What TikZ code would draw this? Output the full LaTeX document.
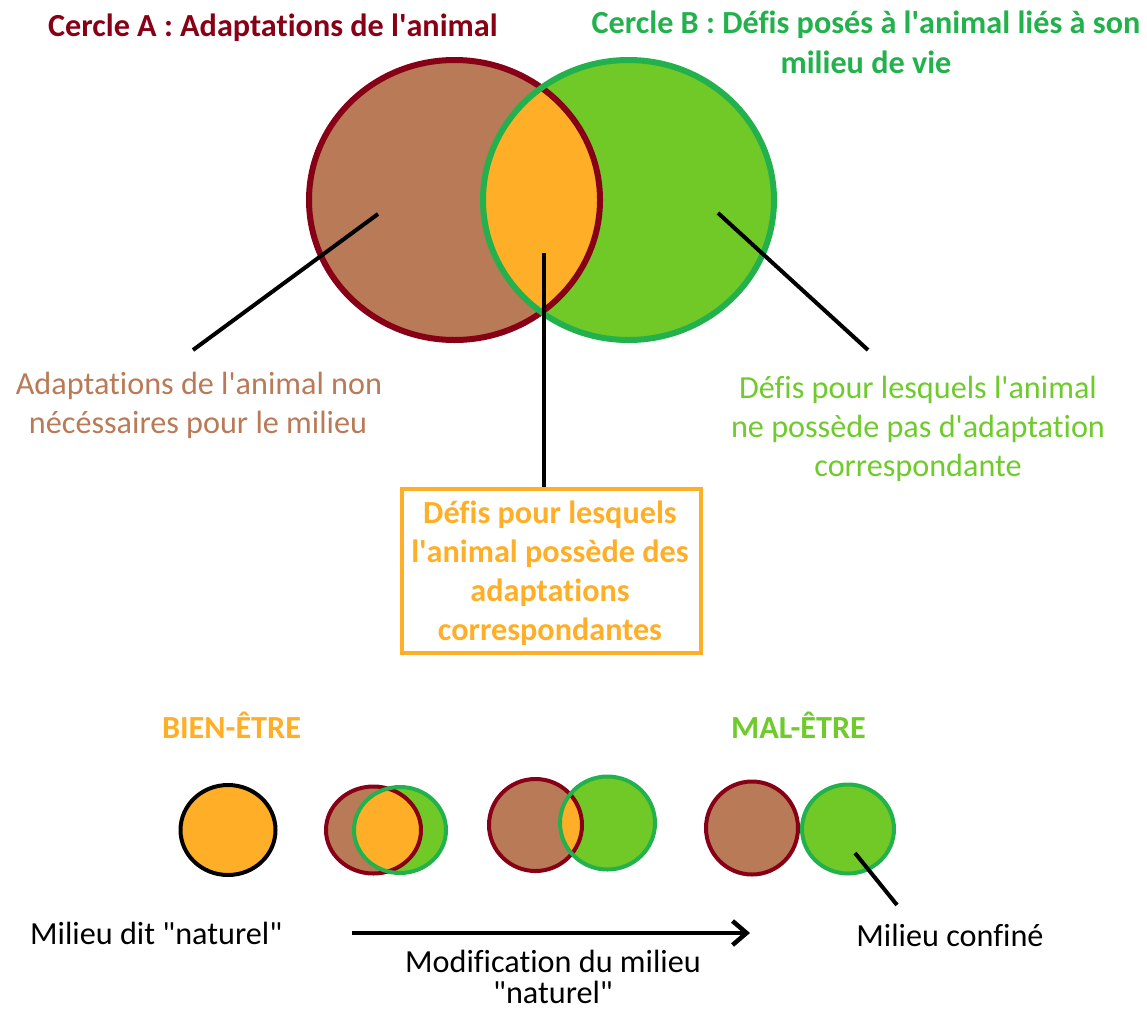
\documentclass[tikz,border=0pt]{standalone}
\usepackage{fontspec}
\setmainfont{Carlito}[Ligatures=NoCommon]
\usetikzlibrary{arrows.meta}
\definecolor{darkred}{HTML}{880015}
\definecolor{brownfill}{HTML}{B97A57}
\definecolor{greenline}{HTML}{22B14C}
\definecolor{greenfill}{HTML}{70C927}
\definecolor{orangefill}{HTML}{FEAF27}
\definecolor{labgreen}{HTML}{6FCB2C}
\newcommand{\ap}{\textquotesingle}
\newcommand{\dq}{\textquotedbl}
\begin{document}
\begin{tikzpicture}[x=1pt,y=-1pt,
  txt/.style={inner sep=0pt, anchor=base, font=\fontsize{32.2}{38}\selectfont},
  btxt/.style={txt, font=\fontsize{32.2}{38}\selectfont\bfseries},
  leader/.style={draw=black, line width=4pt},
  bigA/.style={draw=darkred, line width=6pt},
  bigB/.style={draw=greenline, line width=6pt},
  smA/.style={draw=darkred, line width=4pt},
  smB/.style={draw=greenline, line width=4pt}]
\useasboundingbox (0,0) rectangle (1147,1012);

% ---- big Venn diagram
\fill[brownfill] (454.5,200) ellipse [x radius=145.5, y radius=140];
\fill[greenfill] (628.5,200) ellipse [x radius=145.5, y radius=140];
\begin{scope}
  \clip (454.5,200) ellipse [x radius=145.5, y radius=140];
  \fill[orangefill] (628.5,200) ellipse [x radius=145.5, y radius=140];
\end{scope}
\draw[bigA] (454.5,200) ellipse [x radius=145.5, y radius=140];
\draw[bigB] (628.5,200) ellipse [x radius=145.5, y radius=140];

% titles
\node[btxt, anchor=base west, text=darkred] (tA) at (48,36) {Cercle A : Adaptations de l\ap animal};
\node[btxt, text=greenline] (tB1) at (866,33) {Cercle B : Défis posés à l\ap animal liés à son};
\node[btxt, text=greenline] (tB2) at (866,73) {milieu de vie};

% leader lines
\coordinate (pA) at (378,214);
\coordinate (qA) at (193,350);
\coordinate (pM) at (544,253);
\coordinate (pB) at (718,213);
\coordinate (qB) at (868,350);
\draw[leader] (pA) -- (qA);
\draw[leader] (pB) -- (qB);

% labels
\node[txt, text=brownfill] (lA1) at (199,394) {Adaptations de l\ap animal non};
\node[txt, text=brownfill] (lA2) at (198,433) {nécéssaires pour le milieu};
\node[txt, text=labgreen] (lB1) at (918,398) {Défis pour lesquels l\ap animal};
\node[txt, text=labgreen] (lB2) at (918,437) {ne possède pas d\ap adaptation};
\node[txt, text=labgreen] (lB3) at (918,476) {correspondante};

% orange box
\node[draw=orangefill, line width=4pt, minimum width=299pt, minimum height=164pt, inner sep=0pt] (box) at (551.5,571) {};
\draw[leader] (pM) -- (pM |- box.north);
\node[btxt, text=orangefill] (b1) at (550,523) {Défis pour lesquels};
\node[btxt, text=orangefill] (b2) at (550,562) {l\ap animal possède des};
\node[btxt, text=orangefill] (b3) at (550,601) {adaptations};
\node[btxt, text=orangefill] (b4) at (550,640) {correspondantes};

% ---- bottom row
\node[btxt, text=orangefill] (bien) at (231.5,738) {BIEN-ÊTRE};
\node[btxt, text=labgreen] (mal) at (798.5,738) {MAL-ÊTRE};

% 1: single orange circle
\fill[orangefill] (228,830) ellipse [x radius=47.5, y radius=45];
\draw[draw=black, line width=4pt] (228,830) ellipse [x radius=47.5, y radius=45];

% 2: strong overlap
\fill[brownfill] (373.5,830) ellipse [x radius=47.5, y radius=43.5];
\fill[greenfill] (400,830) ellipse [x radius=46, y radius=43];
\begin{scope}
  \clip (373.5,830) ellipse [x radius=47.5, y radius=43.5];
  \fill[orangefill] (400,830) ellipse [x radius=46, y radius=43];
\end{scope}
\draw[smA] (373.5,830) ellipse [x radius=47.5, y radius=43.5];
\draw[smB] (400,830) ellipse [x radius=46, y radius=43];

% 3: small overlap
\fill[brownfill] (535.5,825) ellipse [x radius=46.5, y radius=46];
\fill[greenfill] (607.5,823) ellipse [x radius=47.5, y radius=46.5];
\begin{scope}
  \clip (535.5,825) ellipse [x radius=46.5, y radius=46];
  \fill[orangefill] (607.5,823) ellipse [x radius=47.5, y radius=46.5];
\end{scope}
\draw[smA] (535.5,825) ellipse [x radius=46.5, y radius=46];
\draw[smB] (607.5,823) ellipse [x radius=47.5, y radius=46.5];

% 4: no overlap
\fill[brownfill] (752,828) ellipse [x radius=46, y radius=46.5];
\draw[smA] (752,828) ellipse [x radius=46, y radius=46.5];
\fill[greenfill] (848,829) ellipse [x radius=46, y radius=44.5];
\draw[smB] (848,829) ellipse [x radius=46, y radius=44.5];

\coordinate (pC) at (855,853);
\coordinate (qC) at (897,905);
\draw[leader] (pC) -- (qC);

% bottom texts and arrow
\node[txt, anchor=base west] (nat) at (30,944) {Milieu dit \dq naturel\dq};
\node[txt] (conf) at (950,946) {Milieu confiné};
\coordinate (arS) at (352,933);
\coordinate (arE) at (750,933);
\draw[line width=4.5pt, -{Straight Barb[length=14pt,width=24pt]}] (arS) -- (arE);
\node[txt] (mod1) at (553,972) {Modification du milieu};
\node[txt] (mod2) at (553,1003) {\dq naturel\dq};
\end{tikzpicture}
\end{document}
